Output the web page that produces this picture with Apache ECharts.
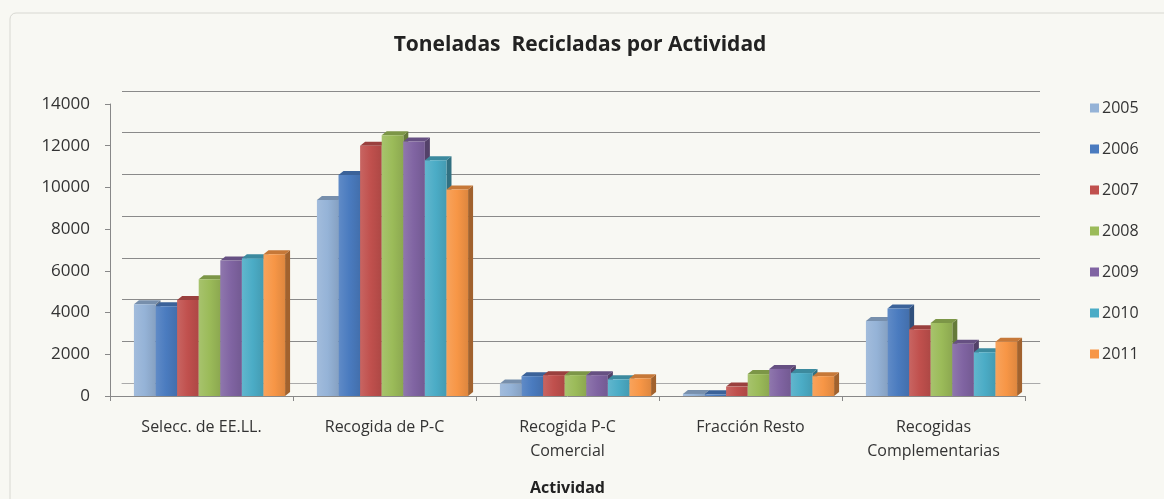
<!DOCTYPE html>
<html><head><meta charset="utf-8">
<script src="https://cdn.jsdelivr.net/npm/echarts@6/dist/echarts.min.js"></script>
<style>html,body{margin:0;padding:0;background:#f8f8f3;}#c{width:1164px;height:499px;}</style>
</head><body><div id="c"></div>
<script>
const categories = ['Selecc. de EE.LL.', 'Recogida de P-C', 'Recogida P-C\nComercial', 'Fracción Resto', 'Recogidas\nComplementarias'];
const years = ['2005','2006','2007','2008','2009','2010','2011'];
const v2005 = [4400, 9400, 600, 100, 3600];
const v2006 = [4300, 10600, 950, 80, 4200];
const v2007 = [4600, 12000, 1000, 450, 3200];
const v2008 = [5600, 12500, 1000, 1050, 3500];
const v2009 = [6500, 12200, 1000, 1300, 2500];
const v2010 = [6600, 11300, 800, 1100, 2100];
const v2011 = [6800, 9900, 850, 950, 2600];
const yTicks = [0, 2000, 4000, 6000, 8000, 10000, 12000, 14000];
const seriesValues = [v2005, v2006, v2007, v2008, v2009, v2010, v2011];
const colors = ['#95b3d7','#4a7bbf','#c0504d','#9bbb59','#8064a2','#4bacc6','#f79646'];

const chart = echarts.init(document.getElementById('c'));
const FONT = '"Open Sans", Lato, sans-serif';

function shade(hex, f) {
  const n = parseInt(hex.slice(1), 16);
  let r = (n >> 16) & 255, g = (n >> 8) & 255, b = n & 255;
  if (f < 0) { r = r * (1 + f); g = g * (1 + f); b = b * (1 + f); }
  else { r = r + (255 - r) * f; g = g + (255 - g) * f; b = b + (255 - b) * f; }
  return 'rgb(' + Math.round(r) + ',' + Math.round(g) + ',' + Math.round(b) + ')';
}

function makeRender(si) {
  return function (params, api) {
    const cat = api.value(0), val = api.value(1);
    const base = api.coord([cat, 0]);
    const top = api.coord([cat, val]);
    const band = api.size([1, 0])[0];
    const bw = band * 0.118;
    const groupW = bw * 7;
    const x0 = base[0] - groupW / 2 + 8 + si * bw;
    const dx = 5, dy = -4;
    const c = colors[si];
    const h = Math.max(base[1] - top[1], 0.5);
    return {
      type: 'group',
      children: [
        { type: 'polygon', shape: { points: [[x0 + bw, top[1]], [x0 + bw + dx, top[1] + dy], [x0 + bw + dx, base[1] + dy], [x0 + bw, base[1]]] },
          style: { fill: shade(c, -0.35) } },
        { type: 'polygon', shape: { points: [[x0, top[1]], [x0 + dx, top[1] + dy], [x0 + bw + dx, top[1] + dy], [x0 + bw, top[1]]] },
          style: { fill: shade(c, -0.2) } },
        { type: 'rect', shape: { x: x0, y: top[1], width: bw, height: h },
          style: { fill: new echarts.graphic.LinearGradient(0, 0, 1, 0, [
            { offset: 0, color: shade(c, 0.12) }, { offset: 0.5, color: c }, { offset: 1, color: shade(c, -0.1) }]) } }
      ]
    };
  };
}

const series = years.map((y, si) => ({
  name: y,
  type: 'custom',
  xAxisIndex: 0, yAxisIndex: 0,
  itemStyle: { color: colors[si] },
  renderItem: makeRender(si),
  encode: { x: 0, y: 1 },
  data: seriesValues[si].map((v, i) => [i, v])
}));

chart.setOption({
  backgroundColor: '#f8f8f3',
  animation: false,
  title: {
    text: 'Toneladas  Recicladas por Actividad',
    left: 575, top: 30, textAlign: 'center',
    textStyle: { fontFamily: FONT, fontSize: 21, fontWeight: 'bold', color: '#222' }
  },
  legend: {
    orient: 'vertical', left: 1085, top: 95,
    icon: 'rect', itemWidth: 9, itemHeight: 9, itemGap: 25,
    textStyle: { fontFamily: FONT, fontSize: 16, color: '#333', padding: [0, 0, 0, -2] },
    data: years
  },
  graphic: [
    { type: 'rect', shape: { x: 10, y: 13, width: 1160, height: 500, r: 6 }, style: { fill: 'none', stroke: '#d8d8d2', lineWidth: 1 }, silent: true }
  ],
  grid: [
    { left: 110, right: 139, top: 104, bottom: 103, containLabel: false, outerBoundsMode: 'none' },
    { left: 122, right: 124, top: 91, bottom: 116, containLabel: false, outerBoundsMode: 'none' }
  ],
  xAxis: [
    { type: 'category', gridIndex: 0, data: categories,
      axisLine: { show: true, lineStyle: { color: '#888' } },
      axisTick: { show: true, length: 5, lineStyle: { color: '#888' } },
      axisLabel: { fontFamily: FONT, fontSize: 16, color: '#333', margin: 19, lineHeight: 24 },
      name: 'Actividad', nameLocation: 'middle', nameGap: 84,
      nameTextStyle: { fontFamily: FONT, fontSize: 16, fontWeight: 'bold', color: '#222' } },
    { type: 'category', gridIndex: 1, data: categories, show: true,
      axisLine: { show: true, lineStyle: { color: '#aaa' } }, axisTick: { show: false }, axisLabel: { show: false } }
  ],
  yAxis: [
    { type: 'value', gridIndex: 0, min: 0, max: 14000, interval: 2000,
      axisLine: { show: true, lineStyle: { color: '#888' } },
      axisTick: { show: true, length: 5, lineStyle: { color: '#888' } },
      splitLine: { show: false },
      axisLabel: { fontFamily: FONT, fontSize: 17, color: '#333', margin: 20,
        formatter: v => yTicks.includes(v) ? String(v) : '' } },
    { type: 'value', gridIndex: 1, min: 0, max: 14000, interval: 2000,
      axisLine: { show: false }, axisTick: { show: false }, axisLabel: { show: false },
      splitLine: { show: true, lineStyle: { color: '#8a8a8a', width: 1.2 } } }
  ],
  series: series
});
</script></body></html>
